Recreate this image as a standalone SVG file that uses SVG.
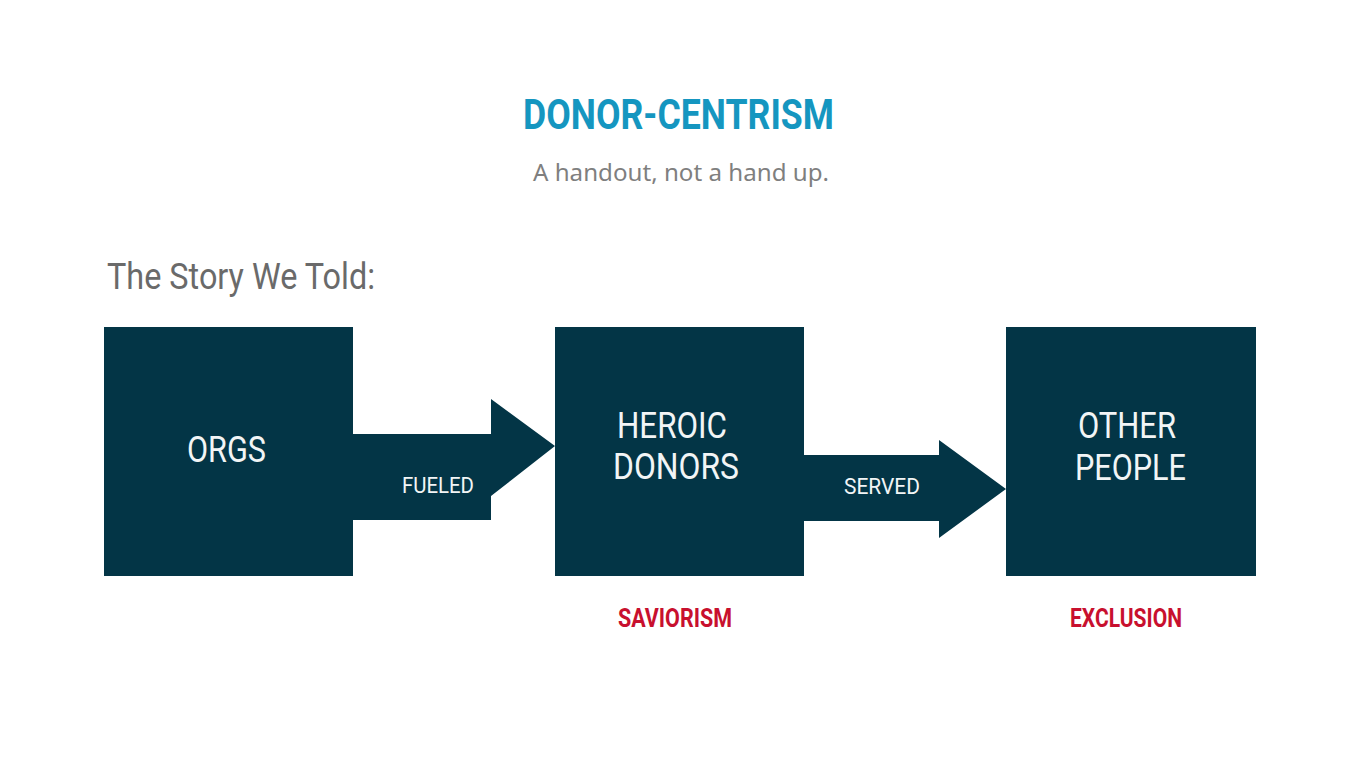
<svg xmlns="http://www.w3.org/2000/svg" width="1366" height="768" viewBox="0 0 1366 768">
<style>
.box{fill:#033546}
.arrow{fill:#033546}
.cond{font-family:"Liberation Sans Narrow","Roboto","Liberation Sans",sans-serif}
.lbl{fill:#f2f5f6;font-size:37px;text-anchor:start}
.alb{fill:#f2f5f6;font-size:22px}
.red{fill:#c8102e;font-size:26px;font-weight:bold}
</style>
<rect width="1366" height="768" fill="#ffffff"/>
<text class="cond" x="523" y="129" font-size="42" font-weight="bold" fill="#1596c0" textLength="311" lengthAdjust="spacingAndGlyphs">DONOR-CENTRISM</text>
<text x="533" y="181" font-family="'Noto Sans','Liberation Sans',sans-serif" font-size="23" fill="#7f7f7f" textLength="296" lengthAdjust="spacingAndGlyphs">A handout, not a hand up.</text>
<text class="cond" x="107" y="289" font-size="36" fill="#6a6a6a" textLength="268" lengthAdjust="spacingAndGlyphs">The Story We Told:</text>
<g id="connectors">
<g id="edge-fueled">
<polygon class="arrow" points="353,434 491,434 491,399 555,446 491,496 491,520 353,520"/>
<text class="cond alb" x="402" y="493" textLength="72" lengthAdjust="spacingAndGlyphs">FUELED</text>
</g>
<g id="edge-served">
<polygon class="arrow" points="804,455 939,455 939,440 1006,489 939,538 939,521 804,521"/>
<text class="cond alb" x="844" y="494" textLength="76" lengthAdjust="spacingAndGlyphs">SERVED</text>
</g>
</g>
<g id="node-orgs">
<rect class="box" x="104" y="327" width="249" height="249"/>
<text class="cond lbl" x="187" y="462" textLength="79" lengthAdjust="spacingAndGlyphs">ORGS</text>
</g>
<g id="node-heroic-donors">
<rect class="box" x="555" y="327" width="249" height="249"/>
<text class="cond lbl" x="617" y="438" textLength="110" lengthAdjust="spacingAndGlyphs">HEROIC</text>
<text class="cond lbl" x="613" y="479" textLength="126" lengthAdjust="spacingAndGlyphs">DONORS</text>
<text class="cond red" x="618" y="627" textLength="114" lengthAdjust="spacingAndGlyphs">SAVIORISM</text>
</g>
<g id="node-other-people">
<rect class="box" x="1006" y="327" width="250" height="249"/>
<text class="cond lbl" x="1078" y="438" textLength="98" lengthAdjust="spacingAndGlyphs">OTHER</text>
<text class="cond lbl" x="1075" y="480" textLength="111" lengthAdjust="spacingAndGlyphs">PEOPLE</text>
<text class="cond red" x="1070" y="627" textLength="112" lengthAdjust="spacingAndGlyphs">EXCLUSION</text>
</g>
</svg>
